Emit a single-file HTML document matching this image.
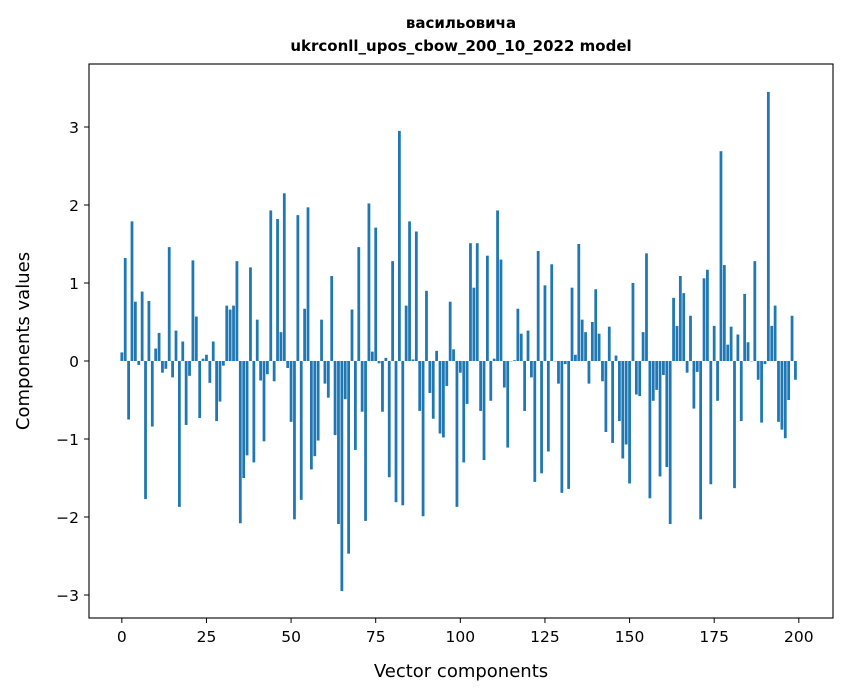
<!DOCTYPE html>
<html><head><meta charset="utf-8"><style>
body{margin:0;background:#fff;}
svg{display:block;font-family:"DejaVu Sans","Liberation Sans",sans-serif;}
</style></head><body>
<svg id="chart" width="847" height="696" viewBox="0 0 847 696">
<rect width="847" height="696" fill="#fff"/>
<text x="461" y="28" text-anchor="middle" font-size="15" font-weight="bold">васильовича</text>
<text x="461" y="51" text-anchor="middle" font-size="15" font-weight="bold">ukrconll_upos_cbow_200_10_2022 model</text>
<g id="bars"></g>
<g id="xt"></g>
<g id="yt"></g>
<rect x="89" y="64" width="744" height="554" fill="none" stroke="#000" stroke-width="1.1"/>
<text x="461" y="677" text-anchor="middle" font-size="18">Vector components</text>
<text transform="translate(29,341) rotate(-90)" text-anchor="middle" font-size="18">Components values</text>
</svg>
<script>
const values = [0.11,1.32,-0.75,1.79,0.76,-0.05,0.89,-1.77,0.77,-0.84,0.16,0.36,-0.15,-0.10,1.46,-0.21,0.39,-1.87,0.25,-0.82,
-0.19,1.29,0.57,-0.73,0.03,0.08,-0.28,0.25,-0.77,-0.52,-0.06,0.71,0.66,0.71,1.28,-2.08,-1.50,-1.21,1.20,-1.30,
0.53,-0.25,-1.03,-0.17,1.93,-0.26,1.82,0.37,2.15,-0.09,-0.78,-2.03,1.87,-1.78,0.67,1.97,-1.39,-1.22,-1.02,0.53,
-0.29,-0.47,1.09,-0.95,-2.09,-2.95,-0.49,-2.47,0.66,-1.14,1.46,-0.65,-2.05,2.02,0.12,1.71,-0.03,-0.65,0.04,-1.49,
1.28,-1.81,2.95,-1.85,0.71,1.79,0.02,1.66,-0.64,-1.99,0.90,-0.41,-0.74,0.13,-0.93,-0.98,-0.32,0.76,0.15,-1.87,
-0.15,-1.30,-0.55,1.51,0.94,1.51,-0.64,-1.27,1.35,-0.51,0.03,1.93,1.30,-0.34,-1.11,0.0,0.01,0.67,0.35,-0.64,
0.39,-0.21,-1.55,1.41,-1.44,0.97,-1.16,1.24,0.0,-0.29,-1.69,-0.04,-1.64,0.94,0.08,1.50,0.53,0.37,-0.29,0.50,
0.92,0.35,-0.26,-0.91,0.44,-1.05,0.07,-0.77,-1.25,-1.07,-1.57,1.00,-0.43,-0.45,0.37,1.38,-1.76,-0.51,-0.37,-1.48,
-0.18,-1.36,-2.09,0.81,0.45,1.09,0.87,-0.15,0.58,-0.61,-0.14,-2.03,1.06,1.17,-1.58,0.45,-0.51,2.69,1.23,0.21,
0.44,-1.63,0.34,-0.77,0.86,0.24,0.0,1.28,-0.24,-0.79,-0.04,3.45,0.45,0.71,-0.78,-0.88,-0.99,-0.50,0.58,-0.24];
const xTicks = [0,25,50,75,100,125,150,175,200];
const yTicks = [-3,-2,-1,0,1,2,3];
const X0=89, X1=833, Y0=64, Y1=618, XMIN=-9.7, XMAX=210.1;
const Y_ZERO=361, PPU=78;
const xs = v => X0 + (v - XMIN) / (XMAX - XMIN) * (X1 - X0);
const ys = v => Y_ZERO - v * PPU;
const NS="http://www.w3.org/2000/svg";
const bw = (X1-X0)/(XMAX-XMIN)*0.82;
const bg=document.getElementById('bars');
values.forEach((v,i)=>{
  const r=document.createElementNS(NS,'rect');
  const y=Math.min(ys(v),ys(0)), h=Math.abs(ys(v)-ys(0));
  r.setAttribute('x',xs(i)-bw/2); r.setAttribute('y',y);
  r.setAttribute('width',bw); r.setAttribute('height',Math.max(h,0.3));
  r.setAttribute('fill','#1f77b4');
  
  
  bg.appendChild(r);
});
const xt=document.getElementById('xt');
xTicks.forEach(t=>{
  const l=document.createElementNS(NS,'line');
  l.setAttribute('x1',xs(t));l.setAttribute('x2',xs(t));l.setAttribute('y1',Y1);l.setAttribute('y2',Y1+5);
  l.setAttribute('stroke','#000');
  
  
  xt.appendChild(l);
  const s=document.createElementNS(NS,'text');
  s.setAttribute('x',xs(t));s.setAttribute('y',Y1+24);s.setAttribute('text-anchor','middle');s.setAttribute('font-size','15.5');
  s.textContent=t;
  
  
  xt.appendChild(s);
});
const yt=document.getElementById('yt');
yTicks.forEach(t=>{
  const l=document.createElementNS(NS,'line');
  l.setAttribute('x1',X0-5);l.setAttribute('x2',X0);l.setAttribute('y1',ys(t));l.setAttribute('y2',ys(t));
  l.setAttribute('stroke','#000');
  
  
  yt.appendChild(l);
  const s=document.createElementNS(NS,'text');
  s.setAttribute('x',X0-10);s.setAttribute('y',ys(t)+6);s.setAttribute('text-anchor','end');s.setAttribute('font-size','15.5');
  s.textContent=t<0?'\u2212'+(-t):String(t);
  
  
  yt.appendChild(s);
});
</script>
</body></html>
